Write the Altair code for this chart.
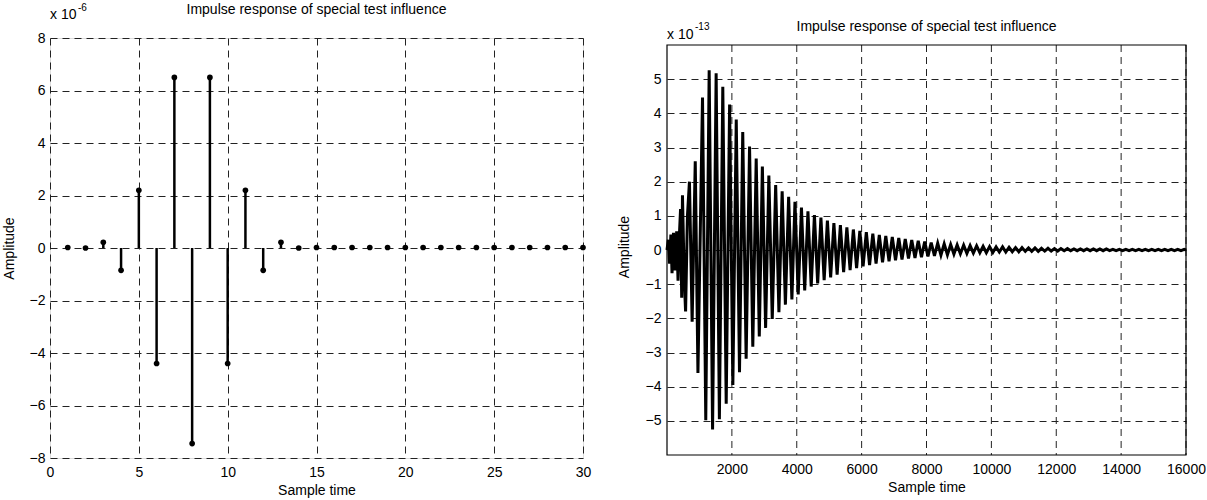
import altair as alt
import pandas as pd

# ---------------- Left chart data (stem plot) ----------------
stem_t = list(range(1, 31))
stem_v = [0.02, 0.0, 0.22, -0.85, 2.2, -4.4, 6.5, -7.45, 6.5, -4.4,
          2.2, -0.85, 0.22, 0.0, 0.02, 0.02, 0.02, 0.02, 0.02, 0.02,
          0.02, 0.02, 0.02, 0.02, 0.02, 0.02, 0.02, 0.02, 0.02, 0.02]

left_xticks = [0, 5, 10, 15, 20, 25, 30]
left_yticks = [-8, -6, -4, -2, 0, 2, 4, 6, 8]

# ---------------- Right chart data (long impulse response, x1e-13) ----------------
# early, irregular part (sample, value)
early_t = [0, 40, 80, 120, 155, 200, 250, 298, 340, 390, 418, 453, 477, 530,
           573, 630, 692, 775, 871, 954]
early_v = [0.0, 0.3, -0.4, 0.45, -0.68, 0.5, -0.6, 0.55, -0.9, 0.6, 1.2, -1.4,
           1.6, -0.8, -1.8, 1.0, 2.0, -2.1, 2.6, -3.6]

peak_t = [1095, 1300, 1515, 1720, 1930, 2135, 2335, 2545, 2750, 2940,
          3140, 3350, 3550, 3750, 3945, 4145, 4345, 4545, 4745, 4945,
          5145, 5345, 5545, 5745, 5945, 6145, 6345, 6545, 6745, 6945,
          7145, 7345, 7545, 7745, 7945, 8145, 8345, 8545, 8745, 8945,
          9145, 9345, 9545, 9745, 9945, 10145, 10345, 10545, 10745, 10945,
          11145, 11345, 11545, 11745, 11945, 12145, 12345, 12545, 12745, 12945,
          13145, 13345, 13545, 13745, 13945, 14145, 14345, 14545, 14745, 14945,
          15145, 15345, 15545, 15745, 15945]
peak_v = [4.46, 5.26, 5.17, 4.78, 4.26, 3.82, 3.45, 3.03, 2.68, 2.44,
          2.18, 1.9, 1.72, 1.56, 1.41, 1.24, 1.13, 1.02, 0.95, 0.86,
          0.79, 0.73, 0.66, 0.6, 0.56, 0.52, 0.48, 0.44, 0.41, 0.38,
          0.35, 0.32, 0.29, 0.27, 0.25, 0.22, 0.2, 0.18, 0.16, 0.15,
          0.14, 0.13, 0.12, 0.11, 0.1, 0.09, 0.09, 0.08, 0.07, 0.07,
          0.06, 0.06, 0.05, 0.05, 0.04, 0.04, 0.04, 0.03, 0.03, 0.03,
          0.03, 0.03, 0.03, 0.02, 0.02, 0.02, 0.02, 0.02, 0.02, 0.02,
          0.02, 0.02, 0.02, 0.02, 0.02]

trough_t = [1195, 1405, 1615, 1825, 2030, 2235, 2440, 2645, 2845, 3040,
            3245, 3450, 3650, 3850, 4045, 4245, 4445, 4645, 4845, 5045,
            5245, 5445, 5645, 5845, 6045, 6245, 6445, 6645, 6845, 7045,
            7245, 7445, 7645, 7845, 8045, 8245, 8445, 8645, 8845, 9045,
            9245, 9445, 9645, 9845, 10045, 10245, 10445, 10645, 10845, 11045,
            11245, 11445, 11645, 11845, 12045, 12245, 12445, 12645, 12845, 13045,
            13245, 13445, 13645, 13845, 14045, 14245, 14445, 14645, 14845, 15045,
            15245, 15445, 15645, 15845]
trough_v = [-4.98, -5.25, -4.95, -4.5, -3.95, -3.58, -3.18, -2.83, -2.53, -2.28,
            -2.02, -1.82, -1.6, -1.45, -1.3, -1.18, -1.07, -0.98, -0.88, -0.8,
            -0.72, -0.65, -0.59, -0.53, -0.48, -0.44, -0.4, -0.36, -0.33, -0.3,
            -0.28, -0.25, -0.23, -0.21, -0.19, -0.17, -0.15, -0.14, -0.12, -0.11,
            -0.1, -0.09, -0.08, -0.08, -0.07, -0.06, -0.06, -0.05, -0.05, -0.04,
            -0.04, -0.04, -0.03, -0.03, -0.03, -0.02, -0.02, -0.02, -0.02, -0.02,
            -0.02, -0.02, -0.02, -0.02, -0.02, -0.02, -0.02, -0.02, -0.02, -0.02,
            -0.02, -0.02, -0.02, -0.02]
end_t = [16000]
end_v = [0.0]

right_xticks = [2000, 4000, 6000, 8000, 10000, 12000, 14000, 16000]
right_yticks = [-5, -4, -3, -2, -1, 0, 1, 2, 3, 4, 5]

TITLE = "Impulse response of special test influence"
FONT = "Liberation Sans"

# ---------------- build tables ----------------
stem_df = pd.DataFrame({"t": stem_t, "v": stem_v})
resp_df = pd.DataFrame({"t": early_t + peak_t + trough_t + end_t,
                        "v": early_v + peak_v + trough_v + end_v}).sort_values("t")
rgrid_df = pd.DataFrame({"t": right_xticks})

GRID_COLOR = "#222222"
GRID_DASH = [7, 5]
base_kw = dict(ticks=False, domain=False, labelFlush=False,
               labelFont=FONT, labelFontSize=14, labelColor="black",
               titleFont=FONT, titleFontSize=14, titleColor="black",
               titleFontWeight="normal")
grid_kw = dict(grid=True, gridColor=GRID_COLOR, gridDash=GRID_DASH, gridWidth=1,
               gridOpacity=1, **base_kw)

LW, LH = 533, 420
RW, RH = 519, 417
R_TOP = 7  # right frame starts lower than the left one

# ---------------- left chart ----------------
lx = alt.X("t:Q", scale=alt.Scale(domain=[0, 30], nice=False),
           axis=alt.Axis(values=left_xticks, title="Sample time", labelPadding=7,
                         titlePadding=4, **grid_kw))
ly = alt.Y("v:Q", scale=alt.Scale(domain=[-8, 8], nice=False),
           axis=alt.Axis(values=left_yticks, title="Amplitude", labelPadding=5,
                         titlePadding=13, **grid_kw))

stems = alt.Chart(stem_df).mark_rule(color="black", strokeWidth=2.5).encode(
    x=lx, y=ly, y2=alt.datum(0))
dots = alt.Chart(stem_df).mark_circle(color="black", size=32, opacity=1).encode(
    x="t:Q", y="v:Q")

def annotations(w, exp_text, ytitle, ytext, yexp):
    t1 = alt.Chart(pd.DataFrame({"s": [TITLE]})).mark_text(
        font=FONT, fontSize=14, align="center", baseline="alphabetic", color="black"
    ).encode(x=alt.value(w / 2), y=alt.value(ytitle), text="s:N")
    t2 = alt.Chart(pd.DataFrame({"s": ["x 10"]})).mark_text(
        font=FONT, fontSize=14, align="left", baseline="alphabetic", color="black"
    ).encode(x=alt.value(0), y=alt.value(ytext), text="s:N")
    t3 = alt.Chart(pd.DataFrame({"s": [exp_text]})).mark_text(
        font=FONT, fontSize=10, align="left", baseline="alphabetic", color="black"
    ).encode(x=alt.value(28), y=alt.value(yexp), text="s:N")
    return [t1, t2, t3]

left = alt.layer(stems, dots, *annotations(LW, "-6", -24, -19, -27)).properties(
    width=LW, height=LH)

# ---------------- right chart ----------------
top_val = 6 + 6 * 2 * R_TOP / (RH - R_TOP)  # value at the top of the (taller) view
rx = alt.X("t:Q", scale=alt.Scale(domain=[0, 16000], nice=False),
           axis=alt.Axis(values=right_xticks, title="Sample time", labelPadding=7,
                         titlePadding=4, format="d", grid=False, **base_kw))
ry = alt.Y("v:Q", scale=alt.Scale(domain=[-6, top_val], nice=False),
           axis=alt.Axis(values=right_yticks, title="Amplitude", labelPadding=6,
                         titlePadding=14, **grid_kw))

vgrid = alt.Chart(rgrid_df).mark_rule(color=GRID_COLOR, strokeWidth=1,
                                      strokeDash=GRID_DASH).encode(
    x=rx, y=alt.value(R_TOP), y2=alt.value(RH))
line = alt.Chart(resp_df).mark_line(color="black", strokeWidth=3,
                                    strokeJoin="miter").encode(x="t:Q", y=ry)
frame = alt.Chart(pd.DataFrame({"k": [0]})).mark_rect(
    filled=False, stroke="black", strokeWidth=1.2).encode(
    x=alt.value(0), x2=alt.value(RW), y=alt.value(R_TOP), y2=alt.value(RH))

right = alt.layer(vgrid, line, frame,
                  *annotations(RW, "-13", R_TOP - 14, R_TOP - 6, R_TOP - 15)
                  ).properties(width=RW, height=RH,
                               view=alt.ViewBackground(strokeOpacity=0))

chart = alt.hconcat(left, right, spacing=25).properties(
    padding={"left": 1, "top": 2, "right": 0, "bottom": 0}
).configure_view(stroke="black", strokeWidth=1.2).configure(
    background="white")

chart.save("out.html", embed_options={"renderer": "svg", "actions": False})
